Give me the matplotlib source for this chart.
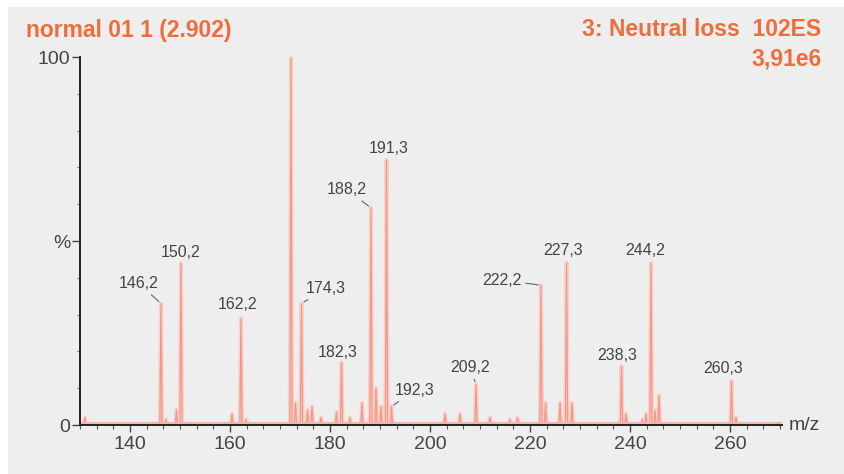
import matplotlib
matplotlib.use("Agg")
import matplotlib.pyplot as plt
from matplotlib.patches import Rectangle
from matplotlib.ticker import MultipleLocator, FixedLocator
import numpy as np

plt.rcParams['font.family'] = ['Liberation Sans', 'DejaVu Sans']

### labelled peaks (m/z, relative intensity %) ###
peak_mz = [146.2, 150.2, 162.2, 172.2, 174.3, 182.3, 188.2, 191.3, 192.3,
           209.2, 222.2, 227.3, 238.3, 244.2, 260.3]
peak_int = [33, 44, 29, 100, 33, 17, 59, 72, 5,
            11, 38, 44, 16, 44, 12]
peak_lab = ['146,2', '150,2', '162,2', '', '174,3', '182,3', '188,2', '191,3', '192,3',
            '209,2', '222,2', '227,3', '238,3', '244,2', '260,3']

### small unlabelled peaks ###
minor_mz = [131.0, 147.2, 149.3, 160.4, 163.2, 173.1, 175.5, 176.4, 178.2, 181.3,
            184.0, 186.4, 189.2, 190.2, 203.0, 206.0, 212.0, 216.0, 217.5, 223.1,
            226.0, 228.4, 239.2, 242.5, 243.2, 245.0, 245.8, 261.2]
minor_int = [2, 1.5, 4, 3, 1.5, 6, 4, 5, 2, 3.5,
             2, 6, 10, 5, 3, 3, 2, 1.5, 2, 6,
             6, 6, 3, 1.5, 3, 4, 8, 2]

### label offsets in pixels (dx, dy) relative to peak top, leader flag ###
lab_off = {'146,2': (-22, 20, True), '150,2': (0, 11, False), '162,2': (-3, 14, False),
           '174,3': (24, 15, True), '182,3': (-4, 10, False), '188,2': (-24, 18, True),
           '191,3': (2, 12, False), '192,3': (23, 16, True), '209,2': (-6, 17, True),
           '222,2': (-39, 5, True), '227,3': (-3, 13, False), '238,3': (-4, 11, False),
           '244,2': (-6, 13, False), '260,3': (-8, 12, False)}

orange = '#ee6d3b'
tcol = '#444444'

fig = plt.figure(figsize=(8.44, 4.74), dpi=100)
fig.patch.set_facecolor('white')
fig.patches.append(Rectangle((8/844, 0), 1, 1 - 7/474, transform=fig.transFigure,
                             facecolor='#eeeeee', edgecolor='none', zorder=-10))

ax = fig.add_axes([80/844, 1 - 425/474, 702/844, 368/474])
ax.set_facecolor('none')

###build spectrum trace from peak lists###
all_mz = np.array(peak_mz + minor_mz)
all_int = np.array(peak_int + minor_int, dtype=float)
order = np.argsort(all_mz)
w = 0.22
xs = [129.5]
ys = [0.0]
for m, h in zip(all_mz[order], all_int[order]):
    xs += [m - w, m, m + w]
    ys += [0.0, h, 0.0]
xs.append(271)
ys.append(0.0)
ax.plot(xs, ys, color='#f8d0c8', lw=3.0, zorder=2)
ax.plot(xs, ys, color='#f0998a', lw=0.9, zorder=3)
ax.plot([129.5, 271], [0.6, 0.6], color='#f4b4a6', lw=1.5, zorder=3)

ax.set_xlim(130, 270.4)
ax.set_ylim(0, 100)

for s in ['top', 'right']:
    ax.spines[s].set_visible(False)
for s in ['left', 'bottom']:
    ax.spines[s].set_color('#222222')
    ax.spines[s].set_linewidth(1.4)
    ax.spines[s].set_zorder(4)

ax.xaxis.set_major_locator(FixedLocator([140, 160, 180, 200, 220, 240, 260]))
ax.xaxis.set_minor_locator(MultipleLocator(20/6))
ax.yaxis.set_major_locator(FixedLocator([0, 50, 100]))
ax.yaxis.set_minor_locator(MultipleLocator(10))
ax.set_yticklabels(['0', '%', '100'])
ax.tick_params(axis='x', which='major', length=5, width=1, colors='#444444',
               labelsize=14, labelcolor=tcol, pad=3)
ax.tick_params(axis='x', which='minor', length=3, width=0.8, colors='#555555')
ax.tick_params(axis='y', which='major', length=6, width=1, colors='#444444',
               labelsize=14, labelcolor=tcol, pad=1)
ax.tick_params(axis='y', which='minor', length=2, width=0.8, colors='#777777')

ax.text(1.01, 0.0, 'm/z', transform=ax.transAxes, fontsize=14, color=tcol,
        ha='left', va='center')

###peak labels with small leader lines###
for m, h, lab in zip(peak_mz, peak_int, peak_lab):
    if lab == '':
        continue
    dx, dy, lead = lab_off[lab]
    arrow = dict(arrowstyle='-', color='#666666', lw=0.8, shrinkA=1, shrinkB=2) if lead else None
    ax.annotate(lab, xy=(m, h), xytext=(dx, dy), textcoords='offset pixels',
                ha='center', va='center', fontsize=11.5, color=tcol,
                arrowprops=arrow, zorder=5)

fig.text(26/844, 1 - 31/474, 'normal 01 1 (2.902)', color=orange, fontsize=16.5,
         fontweight='bold', ha='left', va='center')
fig.text(821/844, 1 - 30/474, '3: Neutral loss  102ES', color=orange, fontsize=16.5,
         fontweight='bold', ha='right', va='center')
fig.text(822/844, 1 - 59/474, '3,91e6', color=orange, fontsize=16.5,
         fontweight='bold', ha='right', va='center')

fig.savefig('out.png', dpi=100, facecolor=fig.get_facecolor())
